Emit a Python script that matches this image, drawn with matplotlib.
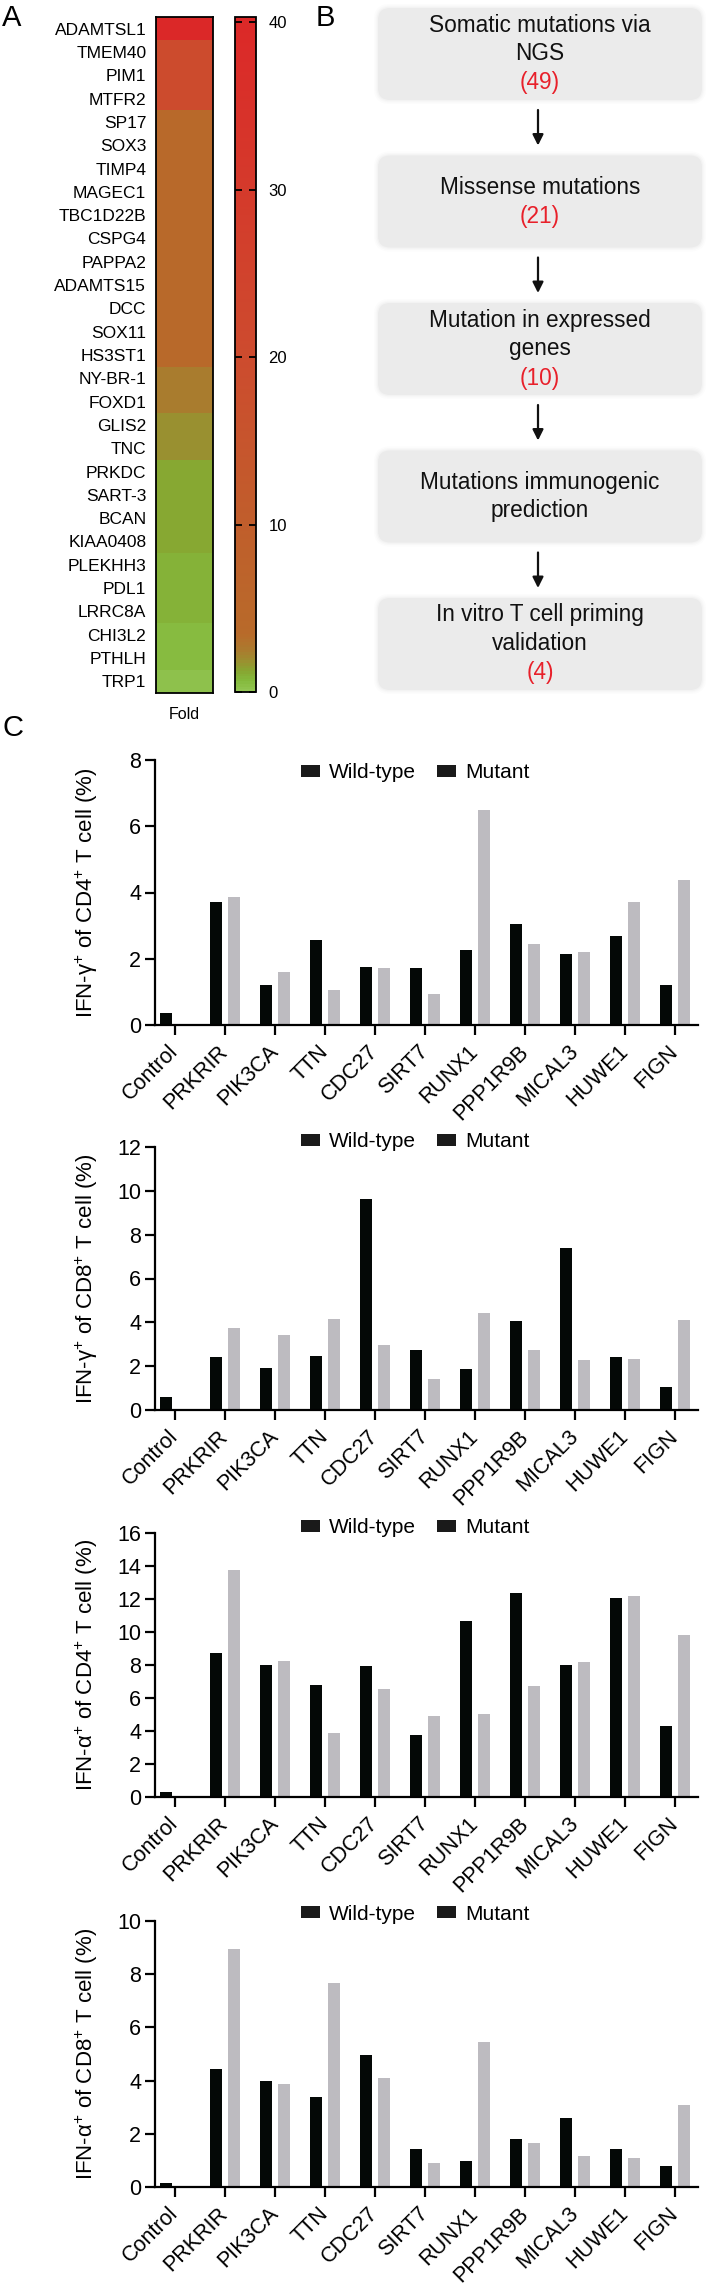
import numpy as np
import matplotlib
matplotlib.use('Agg')
import matplotlib.pyplot as plt
from matplotlib.colors import LinearSegmentedColormap, Normalize
from matplotlib.patches import FancyBboxPatch, Patch

plt.rcParams['font.family'] = ['Liberation Sans', 'DejaVu Sans']
plt.rcParams['mathtext.fontset'] = 'custom'
plt.rcParams['mathtext.rm'] = 'Liberation Sans'
plt.rcParams['mathtext.it'] = 'Liberation Sans:italic'

# ---- panel A: fold change per gene ----
genes = ['ADAMTSL1', 'TMEM40', 'PIM1', 'MTFR2', 'SP17', 'SOX3', 'TIMP4', 'MAGEC1',
         'TBC1D22B', 'CSPG4', 'PAPPA2', 'ADAMTS15', 'DCC', 'SOX11', 'HS3ST1', 'NY-BR-1',
         'FOXD1', 'GLIS2', 'TNC', 'PRKDC', 'SART-3', 'BCAN', 'KIAA0408', 'PLEKHH3',
         'PDL1', 'LRRC8A', 'CHI3L2', 'PTHLH', 'TRP1']
fold = [40, 20, 20, 20, 3.5, 3.5, 3.5, 3.5, 3.5, 3.5, 3.5, 3.5, 3.5, 3.5, 3.5, 2.4,
        2.4, 1.8, 1.8, 1.2, 1.2, 1.2, 1.2, 0.8, 0.8, 0.8, 0.6, 0.6, 0.2]
fold_ticks = [0, 10, 20, 30, 40]

# ---- panel B: filtering steps ----
steps = ['Somatic mutations via\nNGS', 'Missense mutations', 'Mutation in expressed\ngenes',
         'Mutations immunogenic\nprediction', 'In vitro T cell priming\nvalidation']
step_counts = [49, 21, 10, None, 4]

# ---- panel C: T cell responses ----
antigens = ['Control', 'PRKRIR', 'PIK3CA', 'TTN', 'CDC27', 'SIRT7', 'RUNX1', 'PPP1R9B',
            'MICAL3', 'HUWE1', 'FIGN']
ifng_cd4_wt = [0.37, 3.71, 1.22, 2.57, 1.76, 1.71, 2.27, 3.04, 2.13, 2.70, 1.22]
ifng_cd4_mut = [0, 3.85, 1.60, 1.07, 1.73, 0.95, 6.48, 2.44, 2.20, 3.71, 4.38]
ifng_cd8_wt = [0.61, 2.43, 1.93, 2.46, 9.65, 2.73, 1.88, 4.06, 7.37, 2.43, 1.03]
ifng_cd8_mut = [0, 3.75, 3.42, 4.16, 2.95, 1.41, 4.42, 2.72, 2.28, 2.31, 4.10]
ifna_cd4_wt = [0.30, 8.71, 7.98, 6.81, 7.94, 3.77, 10.69, 12.36, 8.02, 12.04, 4.29]
ifna_cd4_mut = [0, 13.75, 8.25, 3.89, 6.57, 4.88, 5.04, 6.71, 8.17, 12.20, 9.80]
ifna_cd8_wt = [0.15, 4.44, 4.00, 3.38, 4.96, 1.42, 0.97, 1.80, 2.60, 1.43, 0.79]
ifna_cd8_mut = [0, 8.93, 3.89, 7.66, 4.09, 0.91, 5.46, 1.65, 1.17, 1.08, 3.07]

W, H = 711, 2290
fig = plt.figure(figsize=(W / 100, H / 100), dpi=100)


def px_axes(x0, y0, x1, y1):
    # axes from pixel box (top-left origin)
    return fig.add_axes([x0 / W, 1 - y1 / H, (x1 - x0) / W, (y1 - y0) / H])


# panel letters
fig.text(2 / W, 1 - 18 / H, 'A', fontsize=21, va='center', ha='left')
fig.text(316 / W, 1 - 18 / H, 'B', fontsize=21, va='center', ha='left')
fig.text(2 / W, 1 - 728 / H, 'C', fontsize=21, va='center', ha='left')

# ---- A: heatmap ----
cmap = LinearSegmentedColormap.from_list('fold', [
    (0.0, '#92c552'), (0.015, '#84b93c'), (0.03, '#88a531'), (0.045, '#9c8e30'),
    (0.06, '#ab7b2e'), (0.085, '#b86a2a'), (0.5, '#cd4b2e'), (1.0, '#dc2828')])
norm = Normalize(vmin=0, vmax=40.3)

ax_hm = px_axes(156, 17, 213, 693)
im = ax_hm.imshow(np.array(fold).reshape(-1, 1), cmap=cmap, norm=norm, aspect='auto')
ax_hm.set_yticks(range(len(genes)))
ax_hm.set_yticklabels(genes, fontsize=12.5)
ax_hm.set_xticks([])
ax_hm.tick_params(axis='y', length=0, pad=7)
for s in ax_hm.spines.values():
    s.set_linewidth(1.3)
ax_hm.set_xlabel('Fold', fontsize=11.5, labelpad=10)

ax_cb = px_axes(235, 17, 256, 692)
cb = fig.colorbar(im, cax=ax_cb)
cb.set_ticks(fold_ticks)
cb.outline.set_linewidth(1.3)
ax_cb.tick_params(direction='in', length=5, width=1.3, left=True, right=True,
                  labelsize=12, pad=9)

# ---- B: flowchart ----
ax_b = px_axes(300, 0, 711, 700)
ax_b.set_xlim(300, 711)
ax_b.set_ylim(700, 0)
ax_b.axis('off')
box_x0, box_x1, box_h, box_step, first_top = 378, 702, 92, 147.5, 8
cx = 540
for i, (label, n) in enumerate(zip(steps, step_counts)):
    top = first_top + i * box_step
    for k, a in zip([4, 2.5, 1.2], [0.05, 0.07, 0.1]):
        ax_b.add_patch(FancyBboxPatch((box_x0 - k, top - k), box_x1 - box_x0 + 2 * k, box_h + 2 * k,
                                      boxstyle='round,pad=0,rounding_size=%s' % (12 + k),
                                      fc='#c8c8c8', ec='none', alpha=a))
    ax_b.add_patch(FancyBboxPatch((box_x0, top), box_x1 - box_x0, box_h,
                                  boxstyle='round,pad=0,rounding_size=12',
                                  fc='#ebebeb', ec='none'))
    lines = label.split('\n')
    cols = ['#111111'] * len(lines)
    if n is not None:
        lines.append('(%d)' % n)
        cols.append('#e8202a')
    y0 = top + box_h / 2 - (len(lines) - 1) * 29 / 2
    for j, (t, c) in enumerate(zip(lines, cols)):
        ax_b.text(cx, y0 + j * 29, t, fontsize=16.3, color=c, ha='center', va='center')
    if i < len(steps) - 1:
        ax_b.annotate('', xy=(538, top + box_step - 10), xytext=(538, top + box_h + 10),
                      arrowprops=dict(arrowstyle='-|>', color='#111111', lw=1.6,
                                      mutation_scale=16, shrinkA=0, shrinkB=0))

# ---- C: bar charts ----
panels = [
    (ifng_cd4_wt, ifng_cd4_mut, r'IFN-γ$^{+}$ of CD4$^{+}$ T cell (%)', 8, 2, (760, 1025), 0.951),
    (ifng_cd8_wt, ifng_cd8_mut, r'IFN-γ$^{+}$ of CD8$^{+}$ T cell (%)', 12, 2, (1147, 1410), 1.02),
    (ifna_cd4_wt, ifna_cd4_mut, r'IFN-α$^{+}$ of CD4$^{+}$ T cell (%)', 16, 2, (1533, 1797), 1.02),
    (ifna_cd8_wt, ifna_cd8_mut, r'IFN-α$^{+}$ of CD8$^{+}$ T cell (%)', 10, 2, (1921, 2187), 1.026),
]
x = np.arange(len(antigens))
bw = 0.24
for wt, mut, ylab, ymax, ystep, (t, b), leg_y in panels:
    ax = px_axes(155, t, 698, b)
    ax.bar(x - 0.175, wt, bw, color='#040806')
    ax.bar(x + 0.175, mut, bw, color='#bdbbc0')
    ax.set_xlim(-0.4, 10.46)
    ax.set_ylim(0, ymax)
    ax.set_yticks(np.arange(0, ymax + 0.1, ystep))
    ax.set_xticks(x)
    ax.set_xticklabels(antigens, rotation=45, ha='right', va='center',
                       rotation_mode='anchor', fontsize=15.5)
    ax.tick_params(axis='y', labelsize=15.5, length=7, width=1.6, pad=3)
    ax.tick_params(axis='x', length=7, width=1.6, pad=10)
    for s in ['top', 'right']:
        ax.spines[s].set_visible(False)
    for s in ['left', 'bottom']:
        ax.spines[s].set_linewidth(1.6)
    ax.set_ylabel(ylab, fontsize=16, va='center')
    ax.yaxis.set_label_coords(-0.125, 0.5)
    handles = [Patch(fc='#1a1a1a', ec='none'), Patch(fc='#1a1a1a', ec='none')]
    ax.legend(handles, ['Wild-type', 'Mutant'], ncol=2, frameon=False, fontsize=15,
              loc='center', bbox_to_anchor=(0.479, leg_y), handlelength=0.9,
              handleheight=0.55, handletextpad=0.45, columnspacing=1.0,
              borderpad=0, borderaxespad=0)

fig.savefig('out.png', dpi=100)
